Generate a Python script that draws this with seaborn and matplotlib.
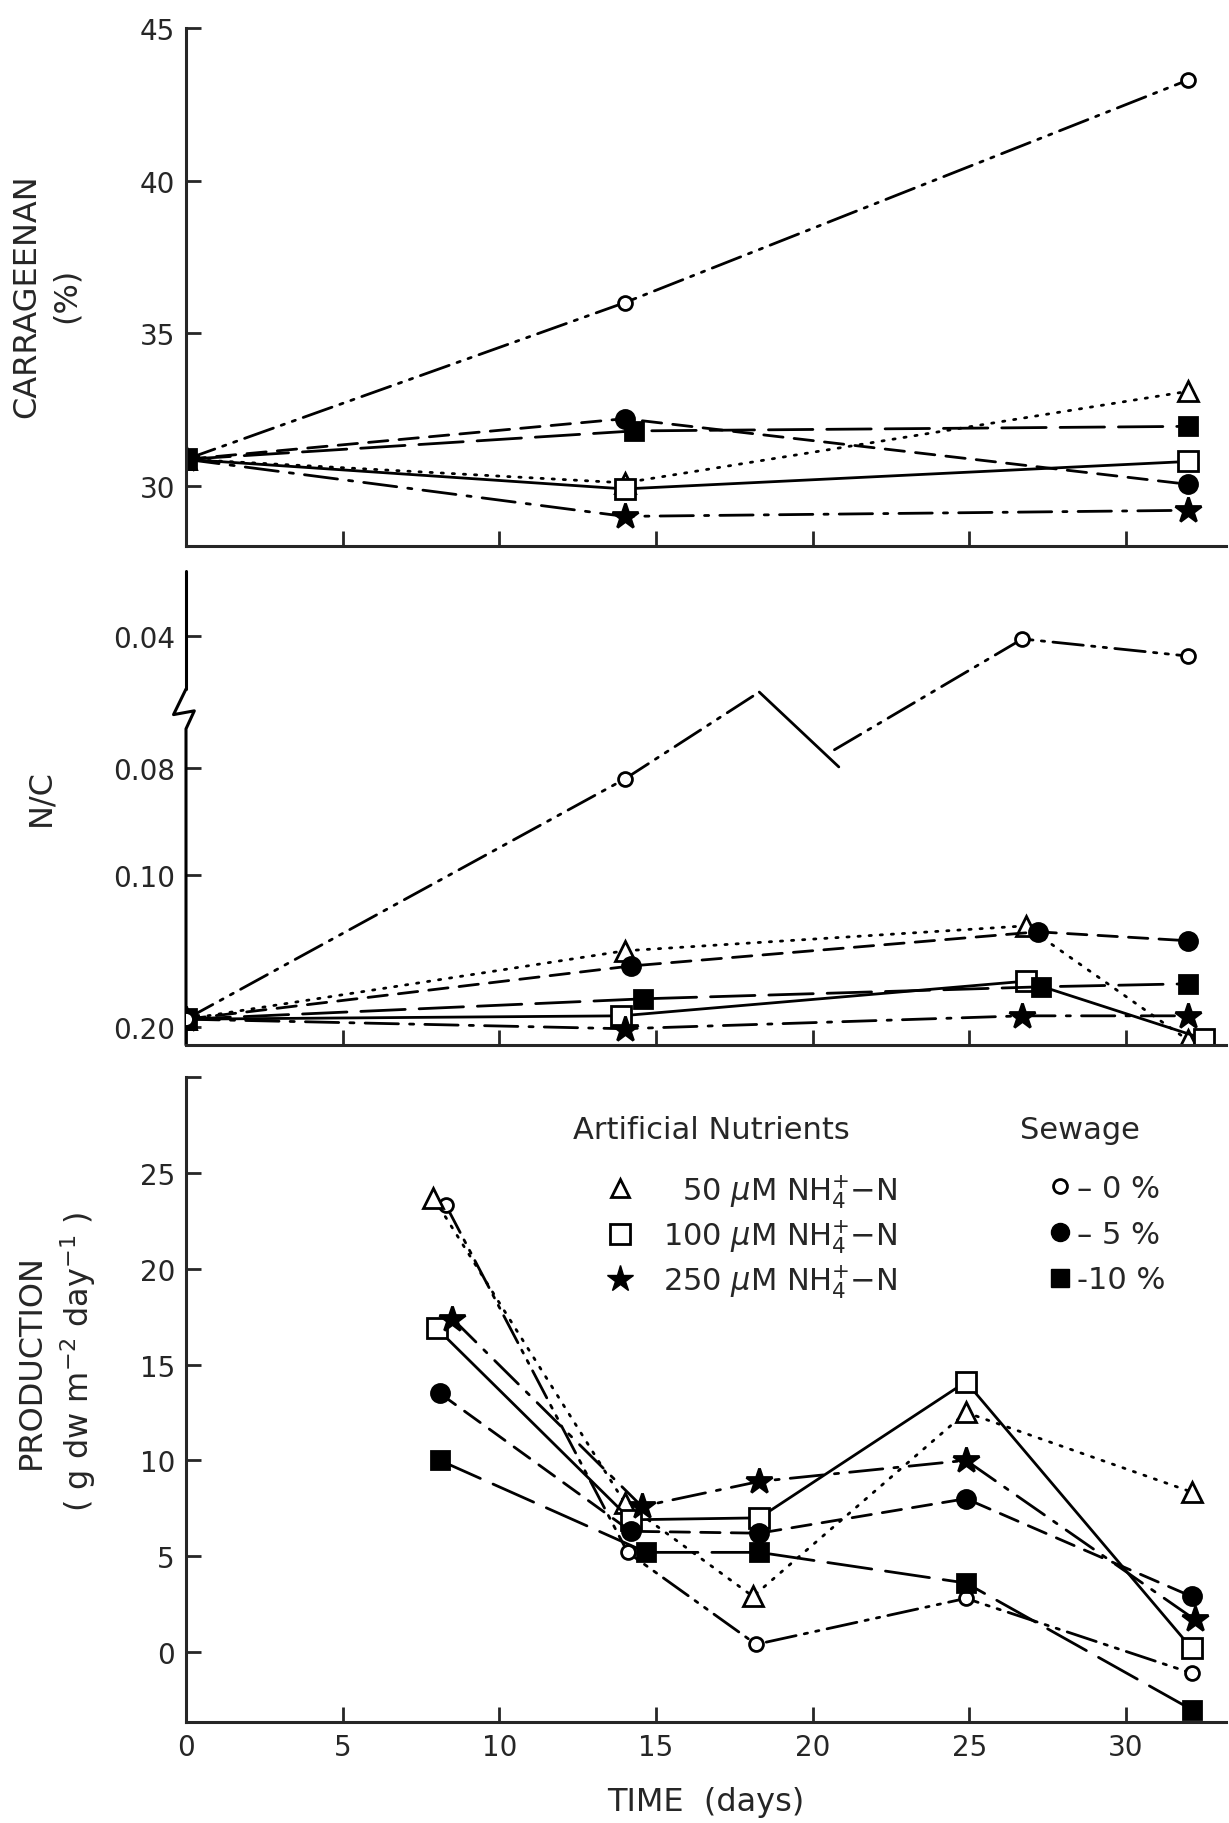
import numpy as np
import matplotlib
matplotlib.use("Agg")
import matplotlib.pyplot as plt
from matplotlib.lines import Line2D
from matplotlib.ticker import FixedLocator, FixedFormatter, NullLocator
import seaborn as sns

# ---------------- data ----------------
# Panel 1: carrageenan (%)
carr_oc_x = [0, 14.0, 32.0];  carr_oc_y = [30.87, 36.0, 43.3]     # 0 % sewage
carr_fc_x = [0, 14.0, 32.0];  carr_fc_y = [30.87, 32.2, 30.05]    # 5 % sewage
carr_fs_x = [0, 14.3, 32.0];  carr_fs_y = [30.87, 31.8, 31.95]    # 10 % sewage
carr_tr_x = [0, 14.0, 32.0];  carr_tr_y = [30.87, 30.1, 33.1]     # 50 uM
carr_os_x = [0, 14.0, 32.0];  carr_os_y = [30.87, 29.9, 30.8]     # 100 uM
carr_st_x = [0, 14.0, 32.0];  carr_st_y = [30.87, 29.0, 29.2]     # 250 uM

# Panel 2: N/C (broken axis)
nc_oc_x_a = [0, 14.0, 18.3];    nc_oc_y_a = [0.195, 0.0821, 0.057]
nc_oc_x_brk = [18.3, 20.84];    nc_oc_y_brk = [0.057, 0.0797]
nc_oc_x_b = [20.7, 26.7, 32.0]; nc_oc_y_b = [0.0745, 0.0409, 0.0461]
nc_oc_x = [0, 14.0, 26.7, 32.0]; nc_oc_y = [0.195, 0.0821, 0.0409, 0.0461]
nc_fc_x = [0, 14.2, 27.2, 32.0]; nc_fc_y = [0.195, 0.160, 0.1375, 0.1434]
nc_fs_x = [0, 14.6, 27.3, 32.0]; nc_fs_y = [0.195, 0.1816, 0.1737, 0.1717]
nc_tr_x = [0, 14.0, 26.8, 32.0]; nc_tr_y = [0.195, 0.150, 0.1336, 0.209]
nc_os_x = [0, 13.9, 26.8, 32.5]; nc_os_y = [0.195, 0.1928, 0.170, 0.208]
nc_st_x = [0, 14.0, 26.7, 32.0]; nc_st_y = [0.195, 0.2013, 0.1928, 0.1928]
nc_tick_values = [0.04, 0.08, 0.10, 0.20]
nc_tick_labels = ["0.04", "0.08", "0.10", "0.20"]

# Panel 3: production (g dw m-2 day-1)
pr_oc_x = [8.3, 14.1, 18.2, 24.9, 32.1];  pr_oc_y = [23.3, 5.2, 0.4, 2.8, -1.1]
pr_fc_x = [8.1, 14.2, 18.3, 24.9, 32.1];  pr_fc_y = [13.5, 6.3, 6.2, 8.0, 2.9]
pr_fs_x = [8.1, 14.7, 18.3, 24.9, 32.1];  pr_fs_y = [10.0, 5.2, 5.2, 3.6, -3.0]
pr_tr_x = [7.9, 14.0, 18.1, 24.9, 32.1];  pr_tr_y = [23.7, 7.8, 2.9, 12.5, 8.35]
pr_os_x = [8.0, 14.2, 18.3, 24.9, 32.1];  pr_os_y = [16.9, 6.9, 7.0, 14.1, 0.2]
pr_st_x = [8.5, 14.55, 18.3, 24.9, 32.2]; pr_st_y = [17.4, 7.6, 8.9, 10.0, 1.7]

nutrient_title = "Artificial Nutrients"
sewage_title = "Sewage"
nutrient_labels = [r"  50 $\mu$M NH$_4^{+}$$-$N", r"100 $\mu$M NH$_4^{+}$$-$N", r"250 $\mu$M NH$_4^{+}$$-$N"]
sewage_labels = ["\u2013 0 %", "\u2013 5 %", "-10 %"]

# ---------------- styles ----------------
LW = 2.0
STY = {
    "oc": dict(ls=(0, (11, 3, 1.2, 3, 1.2, 3)), marker="o", ms=10, mfc="white"),
    "fc": dict(ls=(0, (7, 4)), marker="o", ms=13, mfc="black"),
    "fs": dict(ls=(0, (16, 5)), marker="s", ms=13, mfc="black"),
    "tr": dict(ls=(0, (0.8, 3.2)), marker="^", ms=14, mfc="white"),
    "os": dict(ls="-", marker="s", ms=14, mfc="white"),
    "st": dict(ls=(0, (12, 4, 1.5, 4)), marker="*", ms=19, mfc="black"),
}


def draw(ax, x, y, key, markers=True, ls=None):
    s = STY[key]
    kw = dict(color="black", linestyle=s["ls"] if ls is None else ls, linewidth=LW,
              estimator=None, sort=False, legend=False, ax=ax)
    if markers:
        kw.update(marker=s["marker"], markersize=s["ms"], markerfacecolor=s["mfc"],
                  markeredgecolor="black", markeredgewidth=2.0)
    sns.lineplot(x=x, y=y, **kw)


sns.set_style("ticks")
plt.rcParams["font.family"] = ["DejaVu Sans"]
plt.rcParams["axes.linewidth"] = 2.2
plt.rcParams["xtick.major.width"] = 2.0
plt.rcParams["ytick.major.width"] = 2.0
plt.rcParams["lines.dash_capstyle"] = "round"

W, H = 1229, 1824
fig = plt.figure(figsize=(W / 100, H / 100), dpi=100)


def axes_px(left, top, right, bottom):
    return fig.add_axes([left / W, 1 - bottom / H, (right - left) / W, (bottom - top) / H])


XL = (0, 33.2)
LEFT, RIGHT = 186, 1226
ax1 = axes_px(LEFT, 29, RIGHT, 547)
ax2 = axes_px(LEFT, 572, RIGHT, 1046)
ax3 = axes_px(LEFT, 1078, RIGHT, 1723)


def style_axis(ax):
    for sp in ("top", "right"):
        ax.spines[sp].set_visible(False)
    ax.tick_params(direction="in", length=11, width=2, labelsize=20, pad=8)
    ax.set_xlim(*XL)
    ax.xaxis.set_major_locator(FixedLocator([0, 5, 10, 15, 20, 25, 30]))
    ax.set_facecolor("white")


# ---- Panel 1 ----
style_axis(ax1)
draw(ax1, carr_oc_x, carr_oc_y, "oc")
draw(ax1, carr_tr_x, carr_tr_y, "tr")
draw(ax1, carr_os_x, carr_os_y, "os")
draw(ax1, carr_st_x, carr_st_y, "st")
draw(ax1, carr_fs_x, carr_fs_y, "fs")
draw(ax1, carr_fc_x, carr_fc_y, "fc")
ax1.set_ylim(28.03, 45)
ax1.yaxis.set_major_locator(FixedLocator([30, 35, 40, 45]))
ax1.set_xticklabels([])
ax1.set_xlabel("")
ax1.set_ylabel("CARRAGEENAN\n(%)", fontsize=23, linespacing=1.35)
ax1.yaxis.set_label_coords(-0.10, 0.485)

# ---- Panel 2 (broken, non-linear N/C axis) ----
_nc_v = np.array([0.04, 0.08, 0.10, 0.20])
_nc_p = np.array([391.0, 259.0, 152.0, 0.0])


def _pw(v, xp, fp):
    v = np.asarray(v, dtype=float)
    out = np.interp(v, xp, fp)
    lo_s = (fp[1] - fp[0]) / (xp[1] - xp[0])
    hi_s = (fp[-1] - fp[-2]) / (xp[-1] - xp[-2])
    out = np.where(v < xp[0], fp[0] + (v - xp[0]) * lo_s, out)
    out = np.where(v > xp[-1], fp[-1] + (v - xp[-1]) * hi_s, out)
    return out


def nc_forward(v):
    return _pw(v, _nc_v, _nc_p)


def nc_inverse(p):
    return _pw(p, _nc_p[::-1], _nc_v[::-1])


ax2.set_yscale("function", functions=(nc_forward, nc_inverse))
style_axis(ax2)
draw(ax2, nc_oc_x_a, nc_oc_y_a, "oc", markers=False)
draw(ax2, nc_oc_x_brk, nc_oc_y_brk, "oc", markers=False, ls="-")
draw(ax2, nc_oc_x_b, nc_oc_y_b, "oc", markers=False)
sns.scatterplot(x=nc_oc_x, y=nc_oc_y, ax=ax2, marker="o", s=100, facecolor="white",
                edgecolor="black", linewidth=2.0, zorder=4, legend=False)
draw(ax2, nc_tr_x, nc_tr_y, "tr")
draw(ax2, nc_os_x, nc_os_y, "os")
draw(ax2, nc_st_x, nc_st_y, "st")
draw(ax2, nc_fs_x, nc_fs_y, "fs")
draw(ax2, nc_fc_x, nc_fc_y, "fc")
ax2.set_ylim(0.0203, 0.212)
ax2.yaxis.set_major_locator(FixedLocator(nc_tick_values))
ax2.yaxis.set_major_formatter(FixedFormatter(nc_tick_labels))
ax2.yaxis.set_minor_locator(NullLocator())
ax2.set_xticklabels([])
ax2.set_xlabel("")
ax2.set_ylabel("N/C", fontsize=23)
ax2.yaxis.set_label_coords(-0.125, 0.525)
# broken left spine
ax2.spines["left"].set_visible(False)
tA = ax2.transAxes
ax2.add_line(Line2D([0, 0], [0.751, 1.0], transform=tA, color="black", lw=2.2, clip_on=False))
ax2.add_line(Line2D([0, -0.012, 0.008, 0, 0], [0.751, 0.697, 0.705, 0.667, 0.0],
                    transform=tA, color="black", lw=2.2, clip_on=False))

# ---- Panel 3 ----
style_axis(ax3)
draw(ax3, pr_oc_x, pr_oc_y, "oc")
draw(ax3, pr_tr_x, pr_tr_y, "tr")
draw(ax3, pr_os_x, pr_os_y, "os")
draw(ax3, pr_st_x, pr_st_y, "st")
draw(ax3, pr_fs_x, pr_fs_y, "fs")
draw(ax3, pr_fc_x, pr_fc_y, "fc")
ax3.set_ylim(-3.65, 30)
ax3.yaxis.set_major_locator(FixedLocator([0, 5, 10, 15, 20, 25, 30]))
ax3.yaxis.set_major_formatter(FixedFormatter(["0", "5", "10", "15", "20", "25", ""]))
ax3.xaxis.set_major_formatter(FixedFormatter(["0", "5", "10", "15", "20", "25", "30"]))
ax3.set_xlabel("TIME  (days)", fontsize=23, labelpad=18)
ax3.set_ylabel("PRODUCTION\n( g dw m$^{-2}$ day$^{-1}$ )", fontsize=23, linespacing=1.35)
ax3.yaxis.set_label_coords(-0.085, 0.56)

# legend headers
ax3.text(0.372, 0.919, nutrient_title, transform=ax3.transAxes, fontsize=22,
         ha="left", va="center")
ax3.text(0.802, 0.919, sewage_title, transform=ax3.transAxes, fontsize=22,
         ha="left", va="center")

# legends
nut_handles = [
    Line2D([], [], ls="none", marker="^", ms=13, mfc="white", mec="black", mew=2),
    Line2D([], [], ls="none", marker="s", ms=15, mfc="white", mec="black", mew=2),
    Line2D([], [], ls="none", marker="*", ms=20, mfc="black", mec="black", mew=1),
]
sew_handles = [
    Line2D([], [], ls="none", marker="o", ms=10, mfc="white", mec="black", mew=2),
    Line2D([], [], ls="none", marker="o", ms=13, mfc="black", mec="black", mew=1),
    Line2D([], [], ls="none", marker="s", ms=13, mfc="black", mec="black", mew=1),
]
leg1 = ax3.legend(nut_handles, nutrient_labels,
                  loc="upper left", bbox_to_anchor=(0.403, 0.853), frameon=False,
                  fontsize=22, handlelength=1.0, handletextpad=0.9,
                  labelspacing=0.25, borderpad=0, borderaxespad=0)
ax3.add_artist(leg1)
leg2 = ax3.legend(sew_handles, sewage_labels,
                  loc="upper left", bbox_to_anchor=(0.829, 0.850), frameon=False,
                  fontsize=22, handlelength=0.8, handletextpad=0.15,
                  labelspacing=0.55, borderpad=0, borderaxespad=0)

fig.savefig("out.png", dpi=100, facecolor="white")
